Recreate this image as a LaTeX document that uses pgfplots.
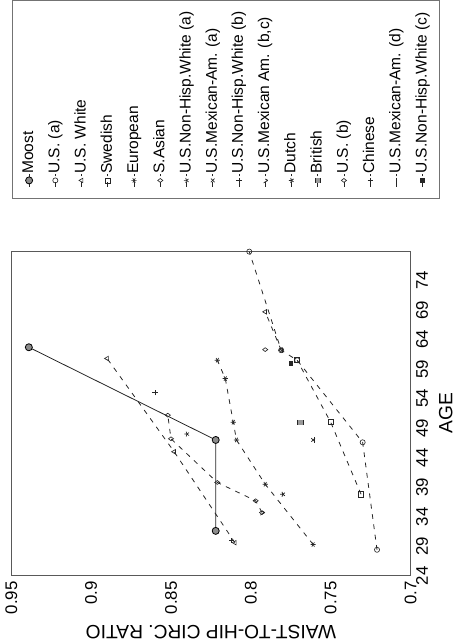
\documentclass[border=0pt]{standalone}
\usepackage{pgfplots}
\pgfplotsset{compat=1.18}
\usepackage{fontspec}
\setmainfont{Liberation Sans}
\usetikzlibrary{plotmarks}
\begin{document}
\begin{tikzpicture}[rotate=90, transform shape]
\begin{axis}[
  scale only axis, width=203pt, height=249.6pt,
  xmin=24, xmax=79, ymin=0.7, ymax=0.95,
  xtick={24,29,34,39,44,49,54,59,64,69,74},
  xticklabels={24,29,34,39,44,49,54,59,64,69,74},
  ytick={0.7,0.75,0.8,0.85,0.9,0.95},
  yticklabels={0.7,0.75,0.8,0.85,0.9,0.95},
  major tick length=0pt,
  axis line style={black!65, line width=0.5pt},
  tick label style={font=\fontsize{10.5}{12}\selectfont},
  label style={font=\fontsize{12}{14}\selectfont},
  xlabel={AGE}, ylabel={WAIST-TO-HIP CIRC. RATIO},
  clip=false,
  every axis plot/.append style={line width=0.5pt, black!85, mark size=1.6pt, mark options={solid, line width=0.4pt}},
  legend style={at={(1.161,0.997)}, anchor=north west, draw=black!55, line width=0.4pt,
    font=\fontsize{9.7}{11}\selectfont, inner xsep=7pt, inner ysep=5.7pt, row sep=7.4pt,
    nodes={inner sep=0pt, text height=7pt, text depth=2pt, anchor=west}},
  legend cell align=left,
  legend image code/.code={\draw[mark repeat=2, mark phase=2, #1] plot coordinates {(0pt,0pt)(4pt,0pt)(8pt,0pt)};},
  dashed/.style={dash pattern=on 3pt off 3.5pt},
]
% Moost
\addplot[solid, mark=*, mark size=2.2pt, mark options={fill=black!45, draw=black}] coordinates {(31.6,0.822) (47,0.822) (62.7,0.939)};
\addlegendentry{Moost}
% U.S. (a)
\addplot[dashed, mark=o] coordinates {(28.4,0.721) (46.6,0.730) (60.5,0.771) (62.2,0.781) (78.9,0.801)};
\addlegendentry{U.S.  (a)}
% U.S. White
\addplot[dashed, mark=triangle] coordinates {(29.6,0.810) (45,0.848) (60.8,0.890)};
\addlegendentry{U.S.  White}
% Swedish
\addplot[dashed, mark=square] coordinates {(37.8,0.731) (50,0.750) (60.5,0.771)};
\addlegendentry{Swedish}
% European
\addplot[dashed, mark=asterisk] coordinates {(29.3,0.761) (39.5,0.791) (47,0.809) (50,0.811) (57.4,0.816) (60.5,0.821)};
\addlegendentry{European}
% S.Asian
\addplot[dashed, mark=diamond] coordinates {(34.7,0.793) (36.7,0.797) (39.8,0.821) (47.2,0.850) (51.2,0.852)};
\addlegendentry{S.Asian}
% U.S. Non-Hisp. White (a)
\addplot[dashed, mark=star] coordinates {(48,0.840)};
\addlegendentry{U.S.Non-Hisp.White (a)}
% U.S. Mexican-Am. (a)
\addplot[dashed, mark=x] coordinates {(47,0.761)};
\addlegendentry{U.S.Mexican-Am.  (a)}
% U.S. Non-Hisp. White (b)
\addplot[dashed, mark=+] coordinates {(55,0.860)};
\addlegendentry{U.S.Non-Hisp.White (b)}
% U.S. Mexican Am. (b,c)
\addplot[dashed, mark=triangle, mark options={rotate=180}] coordinates {(34.7,0.793)};
\addlegendentry{U.S.Mexican  Am.  (b,c)}
% Dutch
\addplot[dashed, mark=star, mark options={fill=black}] coordinates {(37.8,0.780)};
\addlegendentry{Dutch}
% British
\addplot[dashed, mark=square*, mark options={fill=black!40}] coordinates {(50,0.769)};
\addlegendentry{British}
% U.S. (b)
\addplot[dashed, mark=diamond] coordinates {(62.3,0.791)};
\addlegendentry{U.S.  (b)}
% Chinese
\addplot[dashed, mark=+] coordinates {(30,0.812)};
\addlegendentry{Chinese}
% U.S. Mexican-Am. (d)
\addplot[dashed, mark=-] coordinates {(47,0.760)};
\addlegendentry{U.S.Mexican-Am.  (d)}
% U.S. Non-Hisp. White (c)
\addplot[dashed, mark=square*, mark size=1.2pt] coordinates {(60,0.775)};
\addlegendentry{U.S.Non-Hisp.White (c)}
% upper-right U.S. White group
\addplot[dashed, mark=triangle, forget plot] coordinates {(62.2,0.781) (68.7,0.791)};
\node[font=\bfseries\fontsize{11}{13}\selectfont] at (axis description cs:1.729,0.956) {D};
\end{axis}
\end{tikzpicture}
\end{document}
